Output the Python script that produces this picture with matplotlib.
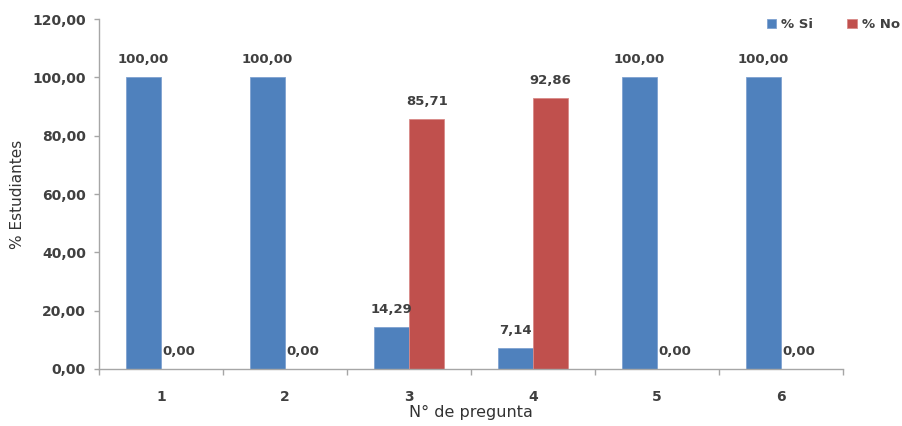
import matplotlib
matplotlib.use("Agg")
import matplotlib.pyplot as plt
import numpy as np

categories = ["1", "2", "3", "4", "5", "6"]
si_values = [100.00, 100.00, 14.29, 7.14, 100.00, 100.00]
no_values = [0.00, 0.00, 85.71, 92.86, 0.00, 0.00]
y_ticks = [0, 20, 40, 60, 80, 100, 120]
series_names = ["% Si", "% No"]

blue = "#4F81BD"
red = "#C0504D"
txt = "#404040"
axc = "#A6A6A6"

fig = plt.figure(figsize=(9.03, 4.26), dpi=100)
ax = fig.add_axes([99/903, (426-369)/426, (843-99)/903, (369-19)/426])

x = np.arange(len(categories))
w = 1/3.5
b1 = ax.bar(x - w/2, si_values, w, color=blue, edgecolor="#7FA2D0", linewidth=0.6, label=series_names[0])
b2 = ax.bar(x + w/2, no_values, w, color=red, edgecolor="#D88A88", linewidth=0.6, label=series_names[1])

def fmt(v):
    return f"{v:.2f}".replace(".", ",")

for bars, vals in ((b1, si_values), (b2, no_values)):
    for r, v in zip(bars, vals):
        ax.annotate(fmt(v), (r.get_x() + r.get_width()/2, v), xytext=(0, 8),
                    textcoords="offset points", ha="center", va="bottom",
                    fontsize=9.5, fontweight="bold", color=txt)

ax.set_xlim(-0.5, len(categories) - 0.5)
ax.set_ylim(0, 120)
ax.set_yticks(y_ticks)
ax.set_yticklabels([fmt(t) for t in y_ticks], fontsize=10, fontweight="bold", color=txt)
ax.set_xticks(x)
ax.set_xticklabels(categories, fontsize=10, fontweight="bold", color=txt)
ax.set_xticks(np.arange(-0.5, len(categories)), minor=True)
ax.tick_params(axis="x", which="major", length=0, pad=15)
ax.tick_params(axis="x", which="minor", length=4, color=axc, width=1)
ax.tick_params(axis="y", length=3.5, color=axc, width=1, pad=6)

for s in ("top", "right"):
    ax.spines[s].set_visible(False)
for s in ("left", "bottom"):
    ax.spines[s].set_color(axc)
    ax.spines[s].set_linewidth(1)

ax.set_ylabel("% Estudiantes", fontsize=11, color="#333333", labelpad=5)
ax.set_xlabel("N° de pregunta", fontsize=11.5, color="#333333", labelpad=0.5)

leg = fig.legend(loc="upper right", bbox_to_anchor=(912/903, 1 - 6/426), ncol=2, frameon=False,
                 handlelength=0.7, handleheight=0.7, handletextpad=0.4,
                 columnspacing=2.6, labelcolor=txt, prop={"weight": "bold", "size": 9.5})

fig.savefig("out.png", dpi=100)
